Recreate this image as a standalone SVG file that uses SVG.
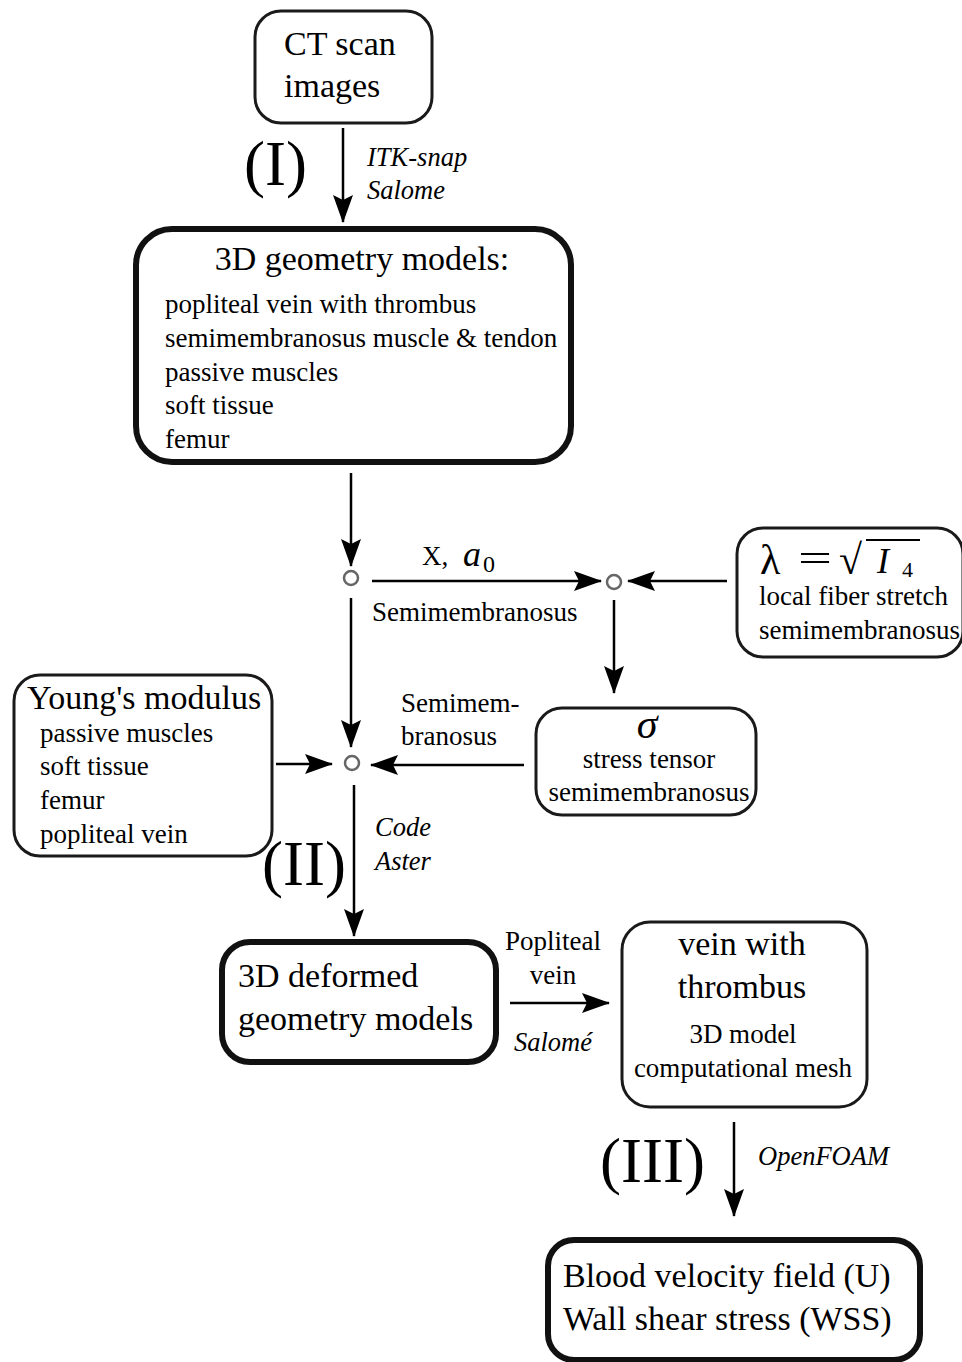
<svg xmlns="http://www.w3.org/2000/svg" width="962" height="1362" viewBox="0 0 962 1362">
<defs>
<marker id="ah" markerUnits="userSpaceOnUse" viewBox="0 0 28 20" markerWidth="28" markerHeight="20" refX="27" refY="10" orient="auto">
<path d="M0,0 L28,10 L0,20 L5,10 z" fill="#000"/>
</marker>
<style>
text{font-family:"Liberation Serif","Times New Roman",serif;fill:#000}
.thin{fill:#fff;stroke:#1a1a1a;stroke-width:3}
.thick{fill:#fff;stroke:#111;stroke-width:6}
.big{font-size:34px}
.med{font-size:27px}
.it{font-size:26.5px;font-style:italic}
.roman{font-size:63px}
.c{text-anchor:middle}
.conn line{stroke:#000;stroke-width:2.5;marker-end:url(#ah)}
.jn{fill:#fff;stroke:#666;stroke-width:2.5}
</style>
</defs>

<g id="ct">
<rect class="thin" x="255" y="11" width="177" height="112" rx="26"/>
<text class="big" x="284" y="55">CT scan</text>
<text class="big" x="284" y="97">images</text>
</g>

<g id="geom">
<rect class="thick" x="136" y="229" width="435" height="233" rx="36"/>
<text class="big c" x="362" y="270">3D geometry models:</text>
<text class="med" x="165" y="313">popliteal vein with thrombus</text>
<text class="med" x="165" y="347">semimembranosus muscle &amp; tendon</text>
<text class="med" x="165" y="381">passive muscles</text>
<text class="med" x="165" y="414">soft tissue</text>
<text class="med" x="165" y="448">femur</text>
</g>

<g id="lambda">
<rect class="thin" x="737" y="528" width="226" height="129" rx="26"/>
<text x="760" y="574" font-size="42">λ</text>
<text x="798" y="572" font-size="40" textLength="34" lengthAdjust="spacingAndGlyphs">=</text>
<text x="839" y="574" font-size="42"><tspan>√</tspan><tspan x="877" y="573" font-size="36" font-style="italic">I</tspan><tspan x="902" y="577" font-size="22">4</tspan></text>
<line x1="866" y1="540" x2="920" y2="540" stroke="#000" stroke-width="2"/>
<text class="med" x="759" y="605">local fiber stretch</text>
<text class="med" x="759" y="639">semimembranosus</text>
</g>

<g id="sigma">
<rect class="thin" x="536" y="708" width="220" height="107" rx="26"/>
<text x="647" y="738" font-size="42" font-style="italic" class="c">σ</text>
<text class="med c" x="649" y="768">stress tensor</text>
<text class="med c" x="649" y="801">semimembranosus</text>
</g>

<g id="young">
<rect class="thin" x="14" y="675" width="258" height="181" rx="26"/>
<text class="big" x="27" y="709">Young's modulus</text>
<text class="med" x="40" y="742">passive muscles</text>
<text class="med" x="40" y="775">soft tissue</text>
<text class="med" x="40" y="809">femur</text>
<text class="med" x="40" y="843">popliteal vein</text>
</g>

<g id="deformed">
<rect class="thick" x="222" y="942" width="274" height="120" rx="28"/>
<text class="big" x="238" y="987">3D deformed</text>
<text class="big" x="238" y="1030">geometry models</text>
</g>

<g id="vein">
<rect class="thin" x="622" y="922" width="245" height="185" rx="28"/>
<text class="big c" x="742" y="955">vein with</text>
<text class="big c" x="742" y="998">thrombus</text>
<text class="med c" x="743" y="1043">3D model</text>
<text class="med c" x="743" y="1077">computational mesh</text>
</g>

<g id="blood">
<rect class="thick" x="548" y="1240" width="372" height="120" rx="26"/>
<text class="big" x="563" y="1287">Blood velocity field (U)</text>
<text class="big" x="563" y="1330">Wall shear stress (WSS)</text>
</g>

<g id="junctions">
<circle class="jn" cx="351" cy="578" r="7"/>
<circle class="jn" cx="614" cy="582" r="7"/>
<circle class="jn" cx="352" cy="763" r="7"/>
</g>

<g class="conn" id="connectors">
<line x1="343" y1="128" x2="343" y2="222"/>
<line x1="351" y1="473" x2="351" y2="566"/>
<line x1="372" y1="581" x2="601" y2="581"/>
<line x1="727" y1="581" x2="628" y2="581"/>
<line x1="614" y1="600" x2="614" y2="693"/>
<line x1="524" y1="765" x2="371" y2="765"/>
<line x1="351" y1="598" x2="351" y2="747"/>
<line x1="276" y1="764" x2="332" y2="764"/>
<line x1="354" y1="785" x2="354" y2="936"/>
<line x1="510" y1="1003" x2="609" y2="1003"/>
<line x1="734" y1="1122" x2="734" y2="1216"/>
</g>

<g id="labels">
<text class="roman" x="244" y="185">(I)</text>
<text class="it" x="367" y="166">ITK-snap</text>
<text class="it" x="367" y="199">Salome</text>
<text class="med" x="422" y="565">X,<tspan x="463" y="566" font-size="36" font-style="italic">a</tspan><tspan x="483" y="572" font-size="24">0</tspan></text>
<text class="med" x="372" y="621">Semimembranosus</text>
<text class="med" x="401" y="712">Semimem-</text>
<text class="med" x="401" y="745">branosus</text>
<text class="roman" x="262" y="885">(II)</text>
<text class="it" x="375" y="836">Code</text>
<text class="it" x="375" y="870">Aster</text>
<text class="med c" x="553" y="950">Popliteal</text>
<text class="med c" x="553" y="984">vein</text>
<text class="it c" x="553" y="1051">Salomé</text>
<text class="roman" x="600" y="1182">(III)</text>
<text class="it" x="758" y="1165">OpenFOAM</text>
</g>
</svg>
